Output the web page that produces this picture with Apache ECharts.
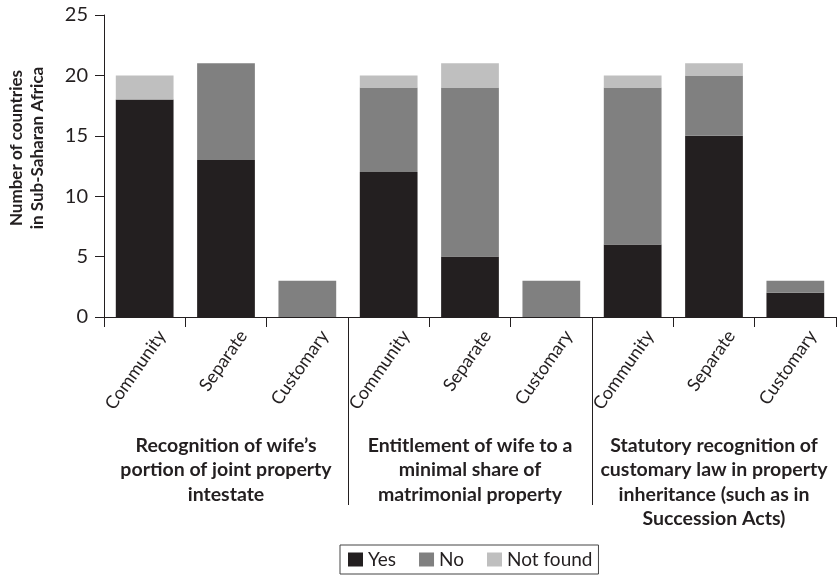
<!DOCTYPE html>
<html>
<head>
<meta charset="utf-8">
<script src="https://cdn.jsdelivr.net/npm/echarts@6/dist/echarts.min.js"></script>
<style>
  html, body { margin: 0; padding: 0; background: #ffffff; }
  #chart { width: 837px; height: 579px; }
</style>
</head>
<body>
<div id="chart"></div>
<script>
// ---- data ----
const categories = ['Community', 'Separate', 'Customary',
                    'Community', 'Separate', 'Customary',
                    'Community', 'Separate', 'Customary'];
const yesValues      = [18, 13, 0, 12, 5, 0, 6, 15, 2];
const noValues       = [0, 8, 3, 7, 14, 3, 13, 5, 1];
const notFoundValues = [2, 0, 0, 1, 2, 0, 1, 1, 0];
const seriesNames = ['Yes', 'No', 'Not found'];
const groupTitles = [
  'Recognition of wife\u2019s\nportion of joint property\nintestate',
  'Entitlement of wife to a\nminimal share of\nmatrimonial property',
  'Statutory recognition of\ncustomary law in property\ninheritance (such as in\nSuccession Acts)'
];
const yAxisTitle = 'Number of countries\nin Sub-Saharan Africa';
const yMin = 0, yMax = 25, yStep = 5;

// ---- style ----
const FF = "Lato, 'Open Sans', sans-serif";
const INK = '#231f20';
const colors = ['#231f20', '#808080', '#bfbfbf'];

const chart = echarts.init(document.getElementById('chart'), null, { renderer: 'canvas' });

const option = {
  animation: false,
  backgroundColor: '#ffffff',
  textStyle: { fontFamily: FF, color: INK },
  grid: { left: 104, right: 1, top: 15, bottom: 262, containLabel: false, outerBoundsMode: 'none' },
  legend: {
    data: seriesNames,
    left: 340, top: 545,
    orient: 'horizontal',
    icon: 'rect',
    itemWidth: 15, itemHeight: 14, itemGap: 23,
    padding: [5, 6, 5, 8],
    borderColor: '#444444', borderWidth: 1,
    textStyle: { fontFamily: FF, fontSize: 19, color: INK }
  },
  xAxis: [
    {
      type: 'category',
      data: categories,
      position: 'bottom',
      axisLine: { show: true, lineStyle: { color: INK, width: 1 } },
      axisTick: { show: true, length: 10, lineStyle: { color: INK, width: 1 } },
      axisLabel: {
        interval: 0, rotate: 55, margin: 40,
        padding: [0, -30, 0, 0],
        fontFamily: FF, fontSize: 18, color: INK
      },
      splitLine: { show: false }
    },
    {
      type: 'category',
      data: groupTitles,
      position: 'bottom',
      axisLine: { show: false },
      axisTick: { show: false },
      axisLabel: {
        interval: 0, margin: 116,
        fontFamily: FF, fontSize: 19.5, fontWeight: 'bold', color: INK,
        lineHeight: 24.5, align: 'center'
      },
      splitLine: { show: false }
    }
  ],
  yAxis: {
    type: 'value',
    min: yMin, max: yMax, interval: yStep,
    name: yAxisTitle,
    nameLocation: 'middle',
    nameGap: 56,
    nameTextStyle: {
      fontFamily: FF, fontSize: 17, fontWeight: 'bold', color: INK,
      lineHeight: 21, padding: [0, 0, 0, 36]
    },
    axisLine: { show: true, lineStyle: { color: INK, width: 1 } },
    axisTick: { show: true, length: 9, lineStyle: { color: INK, width: 1 } },
    axisLabel: { margin: 16, fontFamily: FF, fontSize: 20, color: INK },
    splitLine: { show: false }
  },
  series: [
    { name: seriesNames[0], type: 'bar', stack: 'total', data: yesValues,
      itemStyle: { color: colors[0] }, barCategoryGap: '29%' },
    { name: seriesNames[1], type: 'bar', stack: 'total', data: noValues,
      itemStyle: { color: colors[1] }, barCategoryGap: '29%' },
    { name: seriesNames[2], type: 'bar', stack: 'total', data: notFoundValues,
      itemStyle: { color: colors[2] }, barCategoryGap: '29%' }
  ]
};

chart.setOption(option);

// group separators at the boundaries between the three groups
const y0 = chart.convertToPixel({ yAxisIndex: 0 }, 0);
const sepLen = 188;
const lines = [];
[2, 5].forEach(function (i) {
  const xa = chart.convertToPixel({ xAxisIndex: 0 }, i);
  const xb = chart.convertToPixel({ xAxisIndex: 0 }, i + 1);
  const x = Math.round((xa + xb) / 2) + 0.5;
  lines.push({
    type: 'line',
    shape: { x1: x, y1: y0, x2: x, y2: y0 + sepLen },
    style: { stroke: INK, lineWidth: 1 },
    silent: true
  });
});
chart.setOption({ graphic: lines });
</script>
</body>
</html>
